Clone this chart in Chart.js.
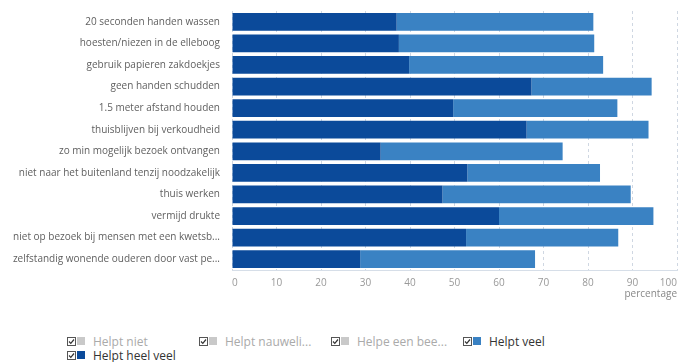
<!DOCTYPE html>
<html>
<head>
<meta charset="utf-8">
<script src="https://cdn.jsdelivr.net/npm/chart.js@4"></script>
<style>
  body { margin: 0; background: #fff; font-family: "Open Sans", sans-serif; }
  #wrap { position: relative; width: 679px; height: 362px; }
  #chartBox { position: absolute; left: 0; top: 0; width: 679px; height: 300px; }
  #legend { position: absolute; left: 67px; top: 334px; width: 540px; display: flex; flex-wrap: wrap; }
  .legend-item { width: 132px; height: 14px; display: flex; align-items: center; font-size: 12px; white-space: nowrap; }
  .legend-item svg { margin-right: 1px; }
  .legend-swatch { width: 8px; height: 8px; margin-right: 8px; }
</style>
</head>
<body>
<div id="wrap">
  <div id="chartBox"><canvas id="grafico"></canvas></div>
  <div id="legend"></div>
</div>
<script>
const maatregelen = [
  '20 seconden handen wassen',
  'hoesten/niezen in de elleboog',
  'gebruik papieren zakdoekjes',
  'geen handen schudden',
  '1.5 meter afstand houden',
  'thuisblijven bij verkoudheid',
  'zo min mogelijk bezoek ontvangen',
  'niet naar het buitenland tenzij noodzakelijk',
  'thuis werken',
  'vermijd drukte',
  'niet op bezoek bij mensen met een kwetsb...',
  'zelfstandig wonende ouderen door vast pe...'
];

// percentages per antwoordcategorie
const helptHeelVeel = [37.0, 37.5, 39.8, 67.3, 49.7, 66.2, 33.4, 52.9, 47.3, 60.0, 52.6, 28.8];
const helptVeel     = [44.2, 43.9, 43.6, 27.0, 36.9, 27.4, 40.9, 29.8, 42.3, 34.7, 34.2, 39.3];
const helptNiet = [];
const helptNauwelijks = [];
const helptEenBeetje = [];

const xTicks = [0, 10, 20, 30, 40, 50, 60, 70, 80, 90, 100];

const colores = {
  heelVeel: '#0b4a9a',
  veel: '#3a82c3',
  grijs: '#c9c9c9'
};

// volgorde in de legenda (stapelvolgorde is andersom)
const legendaOrder = ['Helpt niet', 'Helpt nauweli...', 'Helpe een bee...', 'Helpt veel', 'Helpt heel veel'];

const datasets = [
  { label: 'Helpt heel veel', data: helptHeelVeel, backgroundColor: colores.heelVeel, textColor: '#333' },
  { label: 'Helpt veel', data: helptVeel, backgroundColor: colores.veel, textColor: '#333' },
  { label: 'Helpe een bee...', data: helptEenBeetje, backgroundColor: colores.grijs, textColor: '#aaa' },
  { label: 'Helpt nauweli...', data: helptNauwelijks, backgroundColor: colores.grijs, textColor: '#aaa' },
  { label: 'Helpt niet', data: helptNiet, backgroundColor: colores.grijs, textColor: '#aaa' }
];

const chart = new Chart(document.getElementById('grafico').getContext('2d'), {
  type: 'bar',
  data: {
    labels: maatregelen,
    datasets: datasets.map(ds => ({
      label: ds.label,
      data: ds.data,
      backgroundColor: ds.backgroundColor,
      borderWidth: 0,
      barPercentage: 0.82,
      categoryPercentage: 1
    }))
  },
  options: {
    indexAxis: 'y',
    responsive: true,
    maintainAspectRatio: false,
    animation: false,
    layout: { padding: { top: 11, right: 2, left: 0, bottom: 0 } },
    plugins: {
      legend: { display: false },
      tooltip: { enabled: false }
    },
    scales: {
      x: {
        stacked: true,
        min: 0,
        max: 100,
        afterBuildTicks: scale => { scale.ticks = xTicks.map(v => ({ value: v })); },
        afterFit: scale => {
          scale.height = 30;
          scale.paddingLeft = 0;
          scale.paddingRight = 0;
        },
        grid: { color: '#cfd7e2', lineWidth: 1, drawTicks: false },
        border: { display: true, color: '#d6dee8', dash: [3, 3] },
        ticks: {
          align: 'inner',
          padding: 7,
          color: '#999',
          font: { family: 'Open Sans', size: 10 }
        },
        title: {
          display: true,
          text: 'percentage',
          align: 'end',
          color: '#888',
          padding: { top: 0, bottom: 0 },
          font: { family: 'Open Sans', size: 10 }
        }
      },
      y: {
        stacked: true,
        afterFit: scale => {
          scale.width = 232;
          scale.paddingTop = 0;
          scale.paddingBottom = 0;
        },
        grid: { display: false, drawTicks: false },
        border: { display: false },
        ticks: {
          padding: 12,
          color: '#606060',
          font: { family: 'Open Sans', size: 10 }
        }
      }
    }
  }
});

// legenda met vinkje + kleurvak
function checkbox() {
  return '<svg width="9" height="9" viewBox="0 0 9 9">' +
    '<rect x="0.5" y="0.5" width="8" height="8" fill="#fff" stroke="#555"/>' +
    '<path d="M2 4.5 L3.8 6.3 L7 2.5" fill="none" stroke="#333" stroke-width="1.2"/></svg>';
}

const legend = document.getElementById('legend');
legendaOrder.forEach(naam => {
  const ds = datasets.find(d => d.label === naam);
  const item = document.createElement('div');
  item.className = 'legend-item';
  item.innerHTML = checkbox() +
    `<span class="legend-swatch" style="background:${ds.backgroundColor}"></span>` +
    `<span style="color:${ds.textColor}">${ds.label}</span>`;
  legend.appendChild(item);
});
</script>
</body>
</html>
